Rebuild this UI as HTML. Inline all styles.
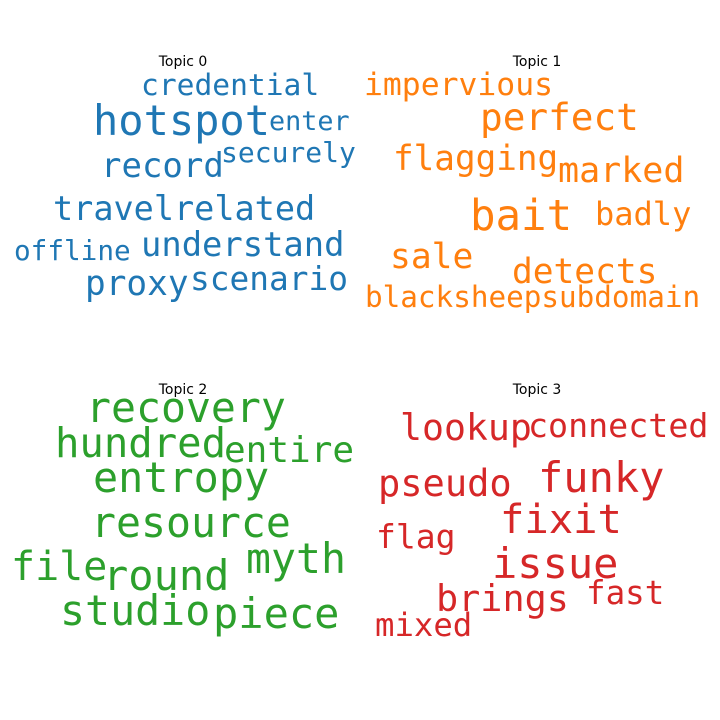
<!DOCTYPE html>
<html><head><meta charset="utf-8"><style>
html,body{margin:0;padding:0;background:#fff;}
svg{display:block;}
text{font-family:"DejaVu Sans Mono","Liberation Mono",monospace;}
.t{font-family:"DejaVu Sans","Liberation Sans",sans-serif;font-size:14px;fill:#000;text-anchor:middle;}
.b{fill:#1f77b4}.o{fill:#ff7f0e}.g{fill:#2ca02c}.r{fill:#d62728}
</style></head><body>
<svg width="720" height="720" viewBox="0 0 720 720" xmlns="http://www.w3.org/2000/svg">
<rect width="720" height="720" fill="#fff"/>
<text class="t" x="183" y="66">Topic 0</text>
<text class="t" x="537" y="66">Topic 1</text>
<text class="t" x="183" y="394">Topic 2</text>
<text class="t" x="537" y="394">Topic 3</text>

<g class="b">
<text x="141" y="95" font-size="29.6">credential</text>
<text x="93" y="135" font-size="42">hotspot</text>
<text x="269" y="130" font-size="26.8">enter</text>
<text x="221" y="162" font-size="28">securely</text>
<text x="101" y="177" font-size="34">record</text>
<text x="53" y="220" font-size="33.5">travelrelated</text>
<text x="14" y="260" font-size="27.7">offline</text>
<text x="141" y="256" font-size="33.8">understand</text>
<text x="85" y="295" font-size="34.4">proxy</text>
<text x="190" y="290" font-size="32.8">scenario</text>
</g>

<g class="o">
<text x="364" y="95" font-size="31.4">impervious</text>
<text x="480" y="130" font-size="37.7">perfect</text>
<text x="393" y="170" font-size="34.3">flagging</text>
<text x="558" y="182" font-size="35">marked</text>
<text x="470" y="230" font-size="42.4">bait</text>
<text x="595" y="225" font-size="32">badly</text>
<text x="390" y="268" font-size="34.6">sale</text>
<text x="512" y="283" font-size="34.5">detects</text>
<text x="365" y="307" font-size="29.3">blacksheepsubdomain</text>
</g>

<g class="g">
<text x="86" y="422" font-size="41.5">recovery</text>
<text x="55" y="457" font-size="40.6">hundred</text>
<text x="224" y="462" font-size="36">entire</text>
<text x="93" y="492" font-size="41.8">entropy</text>
<text x="91" y="537" font-size="41.5">resource</text>
<text x="11" y="580" font-size="40">file</text>
<text x="103" y="590" font-size="42">round</text>
<text x="246" y="573" font-size="41.5">myth</text>
<text x="60" y="625" font-size="41.6">studio</text>
<text x="213" y="628" font-size="42">piece</text>
</g>

<g class="r">
<text x="400" y="440" font-size="36.5">lookup</text>
<text x="528" y="437" font-size="33.3">connected</text>
<text x="538" y="492" font-size="42">funky</text>
<text x="378" y="496" font-size="37">pseudo</text>
<text x="500" y="533" font-size="40.5">fixit</text>
<text x="376" y="548" font-size="33">flag</text>
<text x="492" y="578" font-size="42">issue</text>
<text x="586" y="604" font-size="32.5">fast</text>
<text x="436" y="611" font-size="36.8">brings</text>
<text x="375" y="636" font-size="32.3">mixed</text>
</g>
</svg>
</body></html>
